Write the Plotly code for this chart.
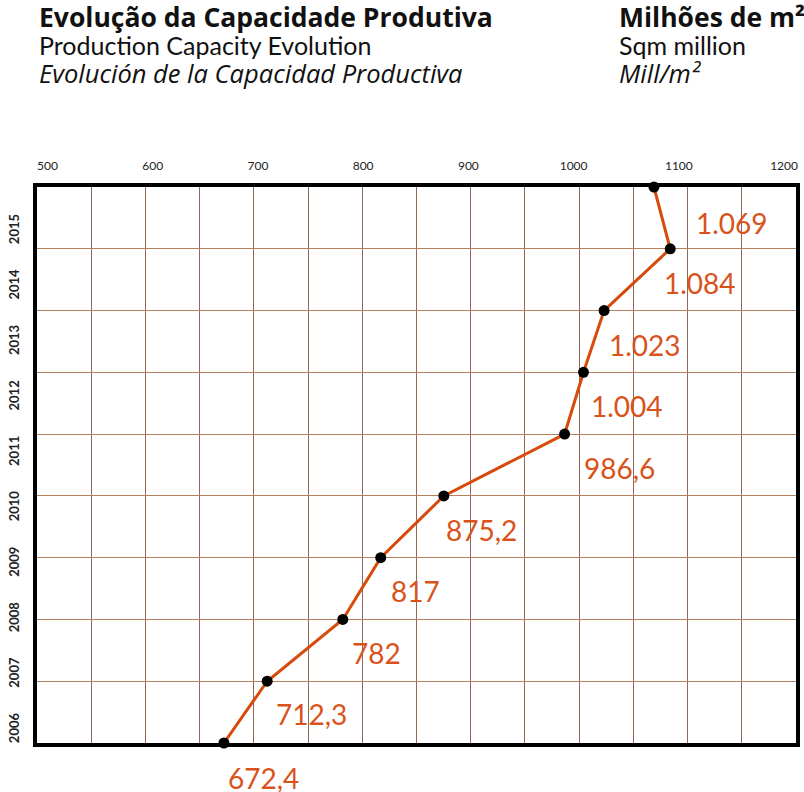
import plotly.graph_objects as go

# ---- data ----
years = [2006, 2007, 2008, 2009, 2010, 2011, 2012, 2013, 2014, 2015]
capacity = [672.4, 712.3, 782, 817, 875.2, 986.6, 1004, 1023, 1084, 1069]
x_tick_values = [500, 600, 700, 800, 900, 1000, 1100, 1200]

title_left = ["Evolução da Capacidade Produtiva",
              "Production Capacity Evolution",
              "Evolución de la Capacidad Productiva"]
title_right = ["Milhões de m²", "Sqm million", "Mill/m²"]

# ---- styling ----
W, H = 804, 792
ML, MR, MT, MB = 37, 4, 187, 49
PW, PH = W - ML - MR, H - MT - MB
FONT = "Lato"
ORANGE = "#d64b0b"
TEXT_ORANGE = "#d9521a"
label_dx = [2, 7, 7, 8, 0, 17, 6, 3, -8, 40]
label_dy = [-35, -33, -34, -33, -34, -34, -34, -34, -34, -36]


def fmt(v):
    if v >= 1000:
        return f"{v:,.0f}".replace(",", ".")
    if v != int(v):
        return f"{v:.1f}".replace(".", ",")
    return str(int(v))


def px_x(p):  # page pixel -> paper
    return (p - ML) / PW


def px_y(p):
    return (H - MB - p) / PH


fig = go.Figure()
fig.add_trace(go.Scatter(
    x=capacity, y=years, mode="lines+markers",
    line=dict(color=ORANGE, width=3),
    marker=dict(color="black", size=11),
    hoverinfo="x+y", showlegend=False, cliponaxis=False,
))
# invisible trace to carry the label axes
fig.add_trace(go.Scatter(
    x=capacity, y=years, xaxis="x2", yaxis="y2", mode="markers",
    marker=dict(opacity=0), hoverinfo="skip", showlegend=False,
))

annotations = []
for v, yr, dx, dy in zip(capacity, years, label_dx, label_dy):
    annotations.append(dict(
        x=v, y=yr, xref="x", yref="y", text=fmt(v), showarrow=False,
        xanchor="left", yanchor="middle", xshift=dx, yshift=dy,
        font=dict(family=FONT, size=28, color=TEXT_ORANGE),
    ))

title_fonts = [
    dict(family="Open Sans", size=26.5, weight="bold"),
    dict(family=FONT, size=25),
    dict(family="Open Sans", size=25.5, style="italic"),
]
mids = [17, 45, 73]
for col_x, texts in ((37, title_left), (620, title_right)):
    for txt, f, ym in zip(texts, title_fonts, mids):
        annotations.append(dict(
            x=px_x(col_x), y=px_y(ym), xref="paper", yref="paper", text=txt,
            showarrow=False, xanchor="left", yanchor="middle",
            font=dict(color="#111", **f),
        ))

fig.update_layout(
    width=W, height=H,
    margin=dict(l=ML, r=MR, t=MT, b=MB),
    paper_bgcolor="white", plot_bgcolor="white",
    annotations=annotations,
    xaxis=dict(
        range=[500, 1200], dtick=50, tick0=500, showgrid=True,
        gridcolor="#8f6a58", gridwidth=1, showticklabels=False, ticks="",
        showline=True, linecolor="black", linewidth=4, mirror=True,
        zeroline=False, fixedrange=True,
    ),
    yaxis=dict(
        range=[2006, 2015], dtick=1, tick0=2006, showgrid=True,
        gridcolor="#b5805e", gridwidth=1, showticklabels=False, ticks="",
        showline=True, linecolor="black", linewidth=4, mirror=True,
        zeroline=False, fixedrange=True,
    ),
    xaxis2=dict(
        overlaying="x", side="top", range=[490.07, 1211.34],
        tickvals=x_tick_values, showgrid=False, zeroline=False,
        showline=False, ticks="", ticklabelstandoff=14,
        tickfont=dict(family=FONT, size=12, color="#222"), fixedrange=True,
    ),
    yaxis2=dict(
        overlaying="y", side="left", range=[2005.7655, 2015.794],
        tickvals=years, showgrid=False, zeroline=False, showline=False,
        ticks="", tickangle=-90, ticklabelstandoff=14,
        tickfont=dict(family=FONT, size=13, color="#222", weight="bold"),
        fixedrange=True,
    ),
)

fig.write_html(
    "out.html",
    config=dict(displayModeBar=False),
    post_script=(
        "document.documentElement.style.margin='0';"
        "document.body.style.margin='0';"
        "document.body.style.overflow='hidden';"
    ),
)
